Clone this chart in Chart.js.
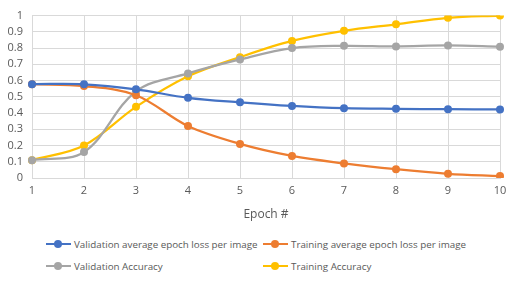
<!DOCTYPE html>
<html>
<head>
<meta charset="utf-8">
<script src="https://cdn.jsdelivr.net/npm/chart.js@4/dist/chart.umd.min.js"></script>
<style>
    body { margin: 0; background: #fff; }
    #wrap { position: relative; width: 518px; height: 282px; }
    #chart { position: absolute; left: 0; top: 0; }
    #legend {
        position: absolute;
        left: 46px;
        top: 236px;
        display: grid;
        grid-template-columns: 217px auto;
        row-gap: 6px;
        font-family: "Open Sans", sans-serif;
        font-size: 9.8px;
        color: #595959;
    }
    .item { display: flex; align-items: center; height: 16px; white-space: nowrap; }
    .mark { position: relative; width: 25px; height: 2px; margin-right: 3px; }
    .mark span {
        position: absolute; left: 8px; top: -3px;
        width: 8px; height: 8px; border-radius: 50%;
    }
</style>
</head>
<body>
<div id="wrap">
    <canvas id="chart" width="518" height="222"></canvas>
    <div id="legend"></div>
</div>
<script>
// Chart data
const epochs = ['1', '2', '3', '4', '5', '6', '7', '8', '9', '10'];
const valLoss = [0.578, 0.577, 0.546, 0.494, 0.466, 0.444, 0.430, 0.426, 0.424, 0.422];
const trainLoss = [0.578, 0.566, 0.510, 0.320, 0.210, 0.136, 0.090, 0.054, 0.026, 0.012];
const valAcc = [0.110, 0.160, 0.534, 0.644, 0.730, 0.800, 0.814, 0.810, 0.816, 0.808];
const trainAcc = [0.110, 0.200, 0.438, 0.626, 0.744, 0.844, 0.906, 0.946, 0.986, 1.000];

const seriesNames = [
    'Validation average epoch loss per image',
    'Training average epoch loss per image',
    'Validation Accuracy',
    'Training Accuracy'
];
const seriesColors = ['#4472C4', '#ED7D31', '#A5A5A5', '#FFC000'];

const textColor = '#595959';
const gridColor = '#D9D9D9';
const fontFamily = '"Open Sans", sans-serif';

function makeDataset(label, data, color) {
    return {
        label: label,
        data: data,
        borderColor: color,
        backgroundColor: color,
        borderWidth: 2.25,
        pointRadius: 4,
        pointBorderWidth: 0,
        pointHoverRadius: 4,
        tension: 0.35,
        fill: false
    };
}

const allSeries = [valLoss, trainLoss, valAcc, trainAcc];
const datasets = allSeries.map((d, i) => makeDataset(seriesNames[i], d, seriesColors[i]));

const chart = new Chart(document.getElementById('chart').getContext('2d'), {
    type: 'line',
    data: { labels: epochs, datasets: datasets },
    options: {
        responsive: false,
        animation: false,
        layout: { padding: { top: 12, right: 18, left: 0, bottom: 0 } },
        plugins: {
            legend: { display: false },
            tooltip: { enabled: false }
        },
        scales: {
            x: {
                offset: false,
                grid: { color: gridColor, offset: false, drawTicks: false },
                border: { color: gridColor },
                ticks: { color: textColor, font: { family: fontFamily, size: 11 }, padding: 6, maxRotation: 0 },
                title: {
                    display: true,
                    text: 'Epoch #',
                    color: textColor,
                    font: { family: fontFamily, size: 12 },
                    padding: { top: 6, bottom: 0 }
                },
                afterFit: scale => { scale.height = 44; }
            },
            y: {
                min: 0,
                max: 1,
                grid: { color: gridColor, drawTicks: false },
                border: { display: false },
                ticks: {
                    stepSize: 0.1,
                    color: textColor,
                    font: { family: fontFamily, size: 11 },
                    padding: 9,
                    callback: v => +v.toFixed(1)
                },
                afterFit: scale => { scale.width = 32; }
            }
        }
    }
});

// HTML legend, two aligned columns like the original
const legend = document.getElementById('legend');
chart.data.datasets.forEach(ds => {
    const item = document.createElement('div');
    item.className = 'item';
    item.innerHTML = '<div class="mark" style="background:' + ds.borderColor + '">' +
        '<span style="background:' + ds.borderColor + '"></span></div>' + ds.label;
    legend.appendChild(item);
});
</script>
</body>
</html>
